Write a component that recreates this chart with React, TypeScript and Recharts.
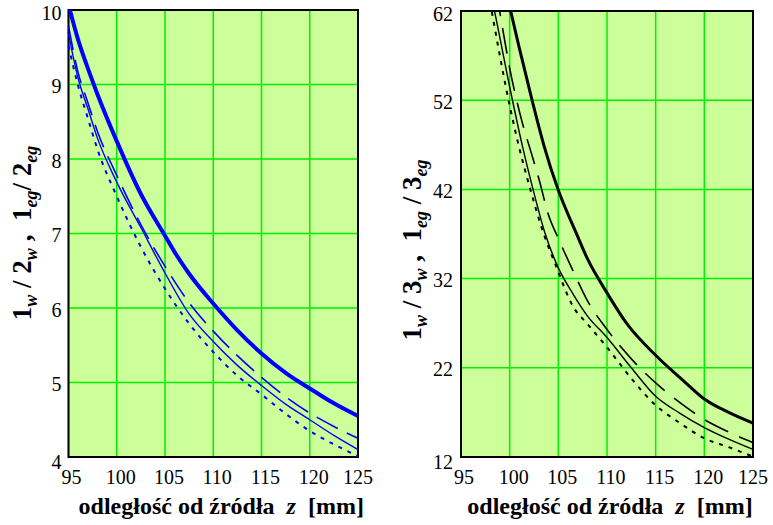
import React from 'react';
import { LineChart, Line, XAxis, YAxis, CartesianGrid, ReferenceArea, Label } from 'recharts';

const FONT = '"Liberation Serif", "Times New Roman", serif';

// shared x axis ticks (z in mm)
const zTicks = [95, 100, 105, 110, 115, 120, 125];
const leftYTicks = [4, 5, 6, 7, 8, 9, 10];
const rightYTicks = [12, 22, 32, 42, 52, 62];

// ---- left panel (1w/2w, 1eg/2eg), blue ----
const leftThickZ = [95, 96, 97, 98, 100, 102.5, 105, 106, 107.5, 110, 112.5, 115, 117.5, 120, 122.5, 125];
const leftThick = [10.07, 9.6, 9.22, 8.87, 8.24, 7.53, 6.97, 6.75, 6.46, 6.06, 5.7, 5.39, 5.13, 4.92, 4.72, 4.55];
const leftZ = [95, 96, 97, 98, 100, 102.5, 105, 107.5, 110, 112.5, 115, 117.5, 120, 122.5, 125];
const leftDashed = [9.78, 9.16, 8.76, 8.37, 7.78, 7.12, 6.56, 6.07, 5.69, 5.36, 5.07, 4.81, 4.59, 4.41, 4.25];
const leftThin = [9.68, 9.08, 8.68, 8.28, 7.69, 7.08, 6.47, 5.92, 5.55, 5.23, 4.96, 4.71, 4.5, 4.29, 4.1];
const leftDotted = [9.52, 8.98, 8.55, 8.13, 7.5, 6.82, 6.26, 5.79, 5.41, 5.09, 4.84, 4.58, 4.35, 4.17, 4.01];

// ---- right panel (1w/3w, 1eg/3eg), black ----
const rightThickZ = [99.6, 100.1, 101, 102.3, 103.5, 105, 106.8, 108, 110, 112, 115, 118, 120, 122.5, 125];
const rightThick = [64.4, 62, 57.8, 52, 47, 41.9, 37.2, 34.2, 30.4, 27.0, 23.4, 20.4, 18.5, 17.0, 15.8];
const rightDashedZ = [98.6, 99, 100, 101.1, 102.3, 103, 104, 105, 106.5, 108, 110, 112.5, 115, 117.5, 120, 122.5, 125];
const rightDashed = [64.3, 61.8, 55.6, 50.3, 45.8, 43.2, 39.1, 36.5, 32.9, 29.5, 26.3, 23.0, 20.3, 18.1, 16.2, 14.8, 13.6];
const rightThinZ = [98, 98.4, 100, 101.3, 102.4, 103.6, 105, 106.5, 108, 110, 112.5, 115, 117.5, 120, 122.5, 125];
const rightThin = [64.2, 62.2, 53.5, 46.9, 42.0, 37.2, 33.2, 30.3, 27.8, 25.4, 22.0, 18.8, 16.9, 15.3, 14.0, 12.85];
const rightDottedZ = [97.8, 98.15, 100, 101, 102.2, 103.2, 104.8, 106.5, 108, 110, 112.5, 115, 117.5, 120, 122.5, 125];
const rightDotted = [64.1, 62, 51.4, 46.6, 41.7, 38, 33.3, 28.9, 26.9, 24.3, 20.8, 17.8, 15.8, 14.1, 13.1, 12.05];

const pts = (zs: number[], vs: number[]) => zs.map((z, i) => ({ z, v: vs[i] }));

const makeXTick = () => (props: any) => {
  const { x, y, payload } = props;
  const v = payload.value;
  const dx = v === 125 ? 0 : v === 95 ? 3 : 4;
  return (
    <text x={x + dx} y={y} dy="0.71em" textAnchor="middle" fontFamily={FONT} fontSize={20} fill="#000">
      {v}
    </text>
  );
};

const makeYTick = (min: number, max: number) => (props: any) => {
  const { x, y, payload } = props;
  const v = payload.value;
  const shift = v === min ? 5 : v === max ? 3 : 1.5;
  return (
    <text x={x} y={y + shift} dy="0.35em" textAnchor="end" fontFamily={FONT} fontSize={20} fill="#000">
      {v}
    </text>
  );
};

const XTitle = (offset: number) => (props: any) => {
  const vb = props.viewBox;
  const cx = vb.x + vb.width / 2 + offset;
  const cy = vb.y + 57;
  return (
    <text x={cx} y={cy} textAnchor="middle" fontFamily={FONT} fontSize={24} fontWeight="bold" fill="#000" style={{ whiteSpace: 'pre' }}>
      <tspan>{'odległość od źródła  '}</tspan>
      <tspan fontStyle="italic">z</tspan>
      <tspan>{'  [mm]'}</tspan>
    </text>
  );
};

const YTitle = (cx: number, cy: number, d: string, sep: string) => () => {
  const sub = { fontSize: 18, fontStyle: 'italic' as const };
  return (
    <text
      x={cx}
      y={cy}
      transform={`rotate(-90 ${cx} ${cy})`}
      textAnchor="middle"
      fontFamily={FONT}
      fontSize={27}
      fontWeight="bold"
      fill="#000"
      style={{ whiteSpace: 'pre' }}
    >
      <tspan>1</tspan>
      <tspan dy={6} {...sub}>w</tspan>
      <tspan dy={-6}>{` / ${d}`}</tspan>
      <tspan dy={6} {...sub}>w</tspan>
      <tspan dy={-6}>{' ,  1'}</tspan>
      <tspan dy={6} {...sub}>eg</tspan>
      <tspan dy={-6}>{`${sep}/ ${d}`}</tspan>
      <tspan dy={6} {...sub}>eg</tspan>
    </text>
  );
};

const BG = '#ccff99';
const GRID = '#00ee00';

function Panel(props: {
  width: number;
  margin: any;
  yWidth: number;
  yDomain: [number, number];
  yTicks: number[];
  color: string;
  thickW: number;
  thick: any[];
  dashed: any[];
  thin: any[];
  dotted: any[];
  dash: string;
  titleOffset: number;
  yTitle: any;
  tickMarginY: number;
}) {
  const { width, margin, yWidth, yDomain, yTicks, color } = props;
  return (
    <LineChart width={width} height={525} margin={margin}>
      <CartesianGrid fill={BG} stroke={GRID} strokeWidth={1.5} strokeOpacity={1} />
      <XAxis
        dataKey="z"
        type="number"
        domain={[95, 125]}
        ticks={zTicks}
        height={68}
        axisLine={false}
        tickLine={false}
        tickSize={0}
        tickMargin={13}
        tick={makeXTick()}
        interval={0}
      >
        <Label content={XTitle(props.titleOffset)} />
      </XAxis>
      <YAxis
        type="number"
        domain={yDomain}
        ticks={yTicks}
        width={yWidth}
        allowDataOverflow
        axisLine={false}
        tickLine={false}
        tickSize={0}
        tickMargin={props.tickMarginY}
        tick={makeYTick(yDomain[0], yDomain[1])}
        interval={0}
      >
        <Label content={props.yTitle} />
      </YAxis>
      <Line data={props.dotted} dataKey="v" type="monotone" stroke={color} strokeWidth={2} strokeDasharray="4 6" dot={false} isAnimationActive={false} />
      <Line data={props.thin} dataKey="v" type="monotone" stroke={color} strokeWidth={1.4} dot={false} isAnimationActive={false} />
      <Line data={props.dashed} dataKey="v" type="monotone" stroke={color} strokeWidth={1.6} strokeDasharray={props.dash} dot={false} isAnimationActive={false} />
      <Line data={props.thick} dataKey="v" type="monotone" stroke={color} strokeWidth={props.thickW} dot={false} isAnimationActive={false} />
      <ReferenceArea x1={95} x2={125} y1={yDomain[0]} y2={yDomain[1]} fill="none" fillOpacity={0} stroke="#000" strokeWidth={2} ifOverflow="visible" />
    </LineChart>
  );
}

export default function App() {
  return (
    <div style={{ position: 'absolute', left: 0, top: 0, width: 773, height: 525, background: '#fff' }}>
      <div style={{ position: 'absolute', left: 0, top: 0 }}>
        <Panel
          width={380}
          margin={{ top: 10, right: 22, bottom: 0, left: 0 }}
          yWidth={68.5}
          yDomain={[4, 10]}
          yTicks={leftYTicks}
          color="#0000ff"
          thickW={4}
          thick={pts(leftThickZ, leftThick)}
          dashed={pts(leftZ, leftDashed)}
          thin={pts(leftZ, leftThin)}
          dotted={pts(leftZ, leftDotted)}
          dash="24 10"
          titleOffset={8}
          yTitle={YTitle(31, 233, '2', '')}
          tickMarginY={7}
        />
      </div>
      <div style={{ position: 'absolute', left: 390, top: 0 }}>
        <Panel
          width={383}
          margin={{ top: 11, right: 20, bottom: 0, left: 0 }}
          yWidth={71}
          yDomain={[12, 62]}
          yTicks={rightYTicks}
          color="#000000"
          thickW={3}
          thick={pts(rightThickZ, rightThick)}
          dashed={pts(rightDashedZ, rightDashed)}
          thin={pts(rightThinZ, rightThin)}
          dotted={pts(rightDottedZ, rightDotted)}
          dash="26 12"
          titleOffset={3}
          yTitle={YTitle(31, 250, '3', ' ')}
          tickMarginY={8}
        />
      </div>
    </div>
  );
}
